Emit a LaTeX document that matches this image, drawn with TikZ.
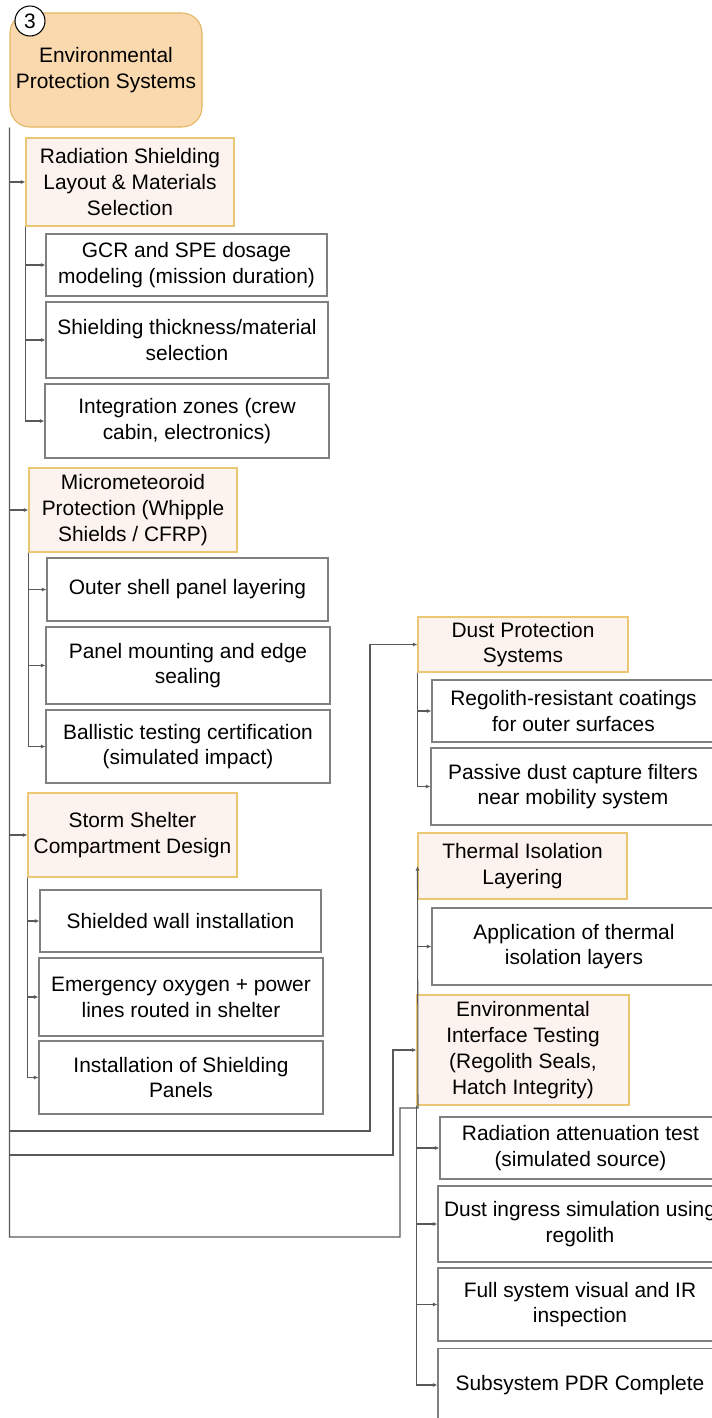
\documentclass[tikz,border=0pt]{standalone}
\usepackage{fontspec}
\setmainfont{Liberation Sans}
\usetikzlibrary{arrows.meta}
\definecolor{rootfill}{HTML}{FAD9AE}
\definecolor{rootline}{HTML}{E3B661}
\definecolor{groupfill}{HTML}{FDF3EE}
\definecolor{groupline}{HTML}{EBC673}
\begin{document}
\begin{tikzpicture}[x=0.02cm,y=-0.02cm,
    every node/.style={font=\fontsize{11.9}{14.7}\selectfont,align=center,inner sep=1pt},
    size/.style 2 args={minimum width=#1*0.02cm,minimum height=#2*0.02cm},
    rootbox/.style={draw=rootline,fill=rootfill,rounded corners=0.4cm,line width=0.6pt},
    badge/.style={circle,draw=black,fill=white,line width=0.6pt,minimum size=0.6cm,inner sep=0pt},
    groupbox/.style={draw=groupline,fill=groupfill,line width=0.6pt},
    taskbox/.style={draw=black!50,fill=white,line width=0.6pt},
    link/.style={draw=black!65,line width=0.6pt,-{Latex[length=0.9mm,width=0.8mm]}}]
    \useasboundingbox (0,0) rectangle (712,1418);
    \clip (0,0) rectangle (712,1418);

    \node[rootbox,size={192}{114}] (root) at (106,70) {Environmental\\Protection Systems};
    \node[badge] (num) at (30,21) {3};

    % work packages
    \node[groupbox,size={208}{88}] (rad) at (130,182) {Radiation Shielding\\Layout \& Materials\\Selection};
    \node[groupbox,size={208}{84}] (micro) at (133,510) {Micrometeoroid\\Protection (Whipple\\Shields / CFRP)};
    \node[groupbox,size={209}{84}] (storm) at (132.5,835) {Storm Shelter\\Compartment Design};
    \node[groupbox,size={210}{55}] (dust) at (523,644.5) {Dust Protection\\Systems};
    \node[groupbox,size={209}{66}] (therm) at (522.5,866) {Thermal Isolation\\Layering};
    \node[groupbox,size={212}{110}] (envt) at (523,1050) {Environmental\\Interface Testing\\(Regolith Seals,\\Hatch Integrity)};

    % tasks
    \node[taskbox,size={281}{62}] (gcr) at (186.5,265) {GCR and SPE dosage\\modeling (mission duration)};
    \node[taskbox,size={282}{76}] (thick) at (187,340) {Shielding thickness/material\\selection};
    \node[taskbox,size={284}{74}] (zones) at (187,421) {Integration zones (crew\\cabin, electronics)};

    \node[taskbox,size={281}{63}] (outer) at (187.5,589.5) {Outer shell panel layering};
    \node[taskbox,size={284}{77}] (mount) at (188,665.5) {Panel mounting and edge\\sealing};
    \node[taskbox,size={284}{73}] (ballistic) at (188,746.5) {Ballistic testing certification\\(simulated impact)};

    \node[taskbox,size={281}{62}] (wall) at (180.5,921) {Shielded wall installation};
    \node[taskbox,size={284}{78}] (oxygen) at (181,997) {Emergency oxygen + power\\lines routed in shelter};
    \node[taskbox,size={284}{73}] (panels) at (181,1077.5) {Installation of Shielding\\Panels};

    \node[taskbox,size={283}{62}] (coat) at (573.5,711) {Regolith-resistant coatings\\for outer surfaces};
    \node[taskbox,size={284}{77}] (filter) at (573,786.5) {Passive dust capture filters\\near mobility system};

    \node[taskbox,size={284}{77}] (layers) at (574,946.5) {Application of thermal\\isolation layers};

    \node[taskbox,size={281}{62}] (atten) at (580.5,1148) {Radiation attenuation test\\(simulated source)};
    \node[taskbox,size={284}{76}] (ingress) at (580,1224) {Dust ingress simulation using\\regolith};
    \node[taskbox,size={284}{73}] (visual) at (580,1304.5) {Full system visual and IR\\inspection};
    \node[taskbox,size={284}{73}] (pdr) at (580,1385) {Subsystem PDR Complete};

    % bends of the long routes
    \coordinate (dustbend) at (370,1131);
    \coordinate (envtbend) at (393,1155);
    \coordinate (thermbend) at (400,1237);
    \coordinate (thermstep) at (418,1108);

    \draw[link] (root.south west) |- (rad);
    \draw[link] (root.south west) |- (micro);
    \draw[link] (root.south west) |- (storm);
    \draw[link] (root.south west) |- (dustbend) |- (dust);
    \draw[link] (root.south west) |- (envtbend) |- (envt);
    \draw[link] (root.south west) |- (thermbend) |- (thermstep) -- (therm.west);

    \foreach \task in {gcr,thick,zones} \draw[link] (rad.south west) |- (\task);
    \foreach \task in {outer,mount,ballistic} \draw[link] (micro.south west) |- (\task);
    \foreach \task in {wall,oxygen,panels} \draw[link] (storm.south west) |- (\task);
    \foreach \task in {coat,filter} \draw[link] (dust.south west) |- (\task);
    \draw[link] (therm.south west) |- (layers);
    \foreach \task in {atten,ingress,visual,pdr} \draw[link] (envt.south west) |- (\task);
\end{tikzpicture}
\end{document}
